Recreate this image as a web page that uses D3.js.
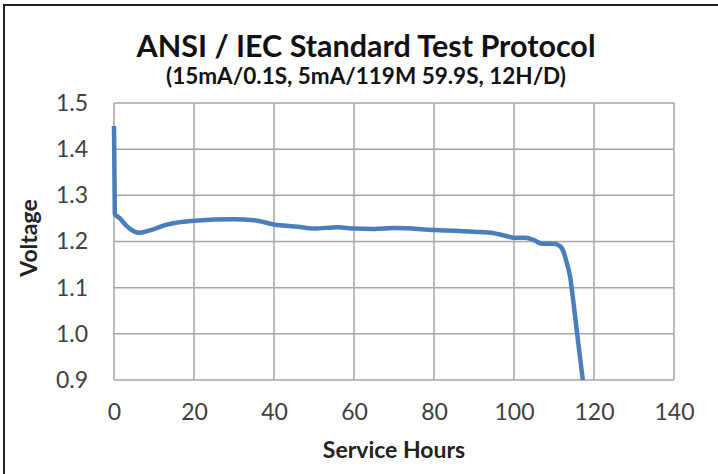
<!DOCTYPE html>
<html>
<head>
<meta charset="utf-8">
<script src="https://cdn.jsdelivr.net/npm/d3@7"></script>
<style>
  body { margin: 0; background: #fff; }
  text { font-family: Lato, "Open Sans", sans-serif; }
</style>
</head>
<body>
<script>
var hours   = [0, 0.2, 1.5, 3, 5, 6.5, 9, 13, 20, 30, 35, 40, 46, 50, 56, 60, 65, 70, 80, 90, 95, 98, 100, 103, 105, 107, 110, 111.5, 112.5, 113, 114, 115, 116, 117.2];
var voltage = [1.45, 1.26, 1.25, 1.235, 1.222, 1.219, 1.224, 1.236, 1.245, 1.248, 1.246, 1.237, 1.232, 1.228, 1.231, 1.228, 1.227, 1.229, 1.225, 1.221, 1.218, 1.212, 1.208, 1.208, 1.203, 1.195, 1.195, 1.19, 1.175, 1.16, 1.125, 1.058, 0.985, 0.9];
var xTicks = [0, 20, 40, 60, 80, 100, 120, 140];
var yTicks = [0.9, 1.0, 1.1, 1.2, 1.3, 1.4, 1.5];

var W = 718, H = 474;
var padL = 114, padR = 674, padT = 103, padB = 380;

var svg = d3.select("body").append("svg")
    .attr("width", W)
    .attr("height", H);

// outer frame (only top and left show)
svg.append("rect")
    .attr("x", 4).attr("y", 5)
    .attr("width", W + 20).attr("height", H + 20)
    .attr("fill", "#fff")
    .attr("stroke", "#222")
    .attr("stroke-width", 2);

var x = d3.scaleLinear().domain([0, 140]).range([padL, padR]);
var y = d3.scaleLinear().domain([0.9, 1.5]).range([padB, padT]);

// grid
svg.append("g").selectAll("line")
    .data(xTicks)
  .enter().append("line")
    .attr("x1", x).attr("x2", x)
    .attr("y1", padT).attr("y2", padB)
    .style("stroke", "#a6a6a6")
    .style("stroke-width", 1.5);

svg.append("g").selectAll("line")
    .data(yTicks)
  .enter().append("line")
    .attr("x1", padL).attr("x2", padR)
    .attr("y1", y).attr("y2", y)
    .style("stroke", "#a6a6a6")
    .style("stroke-width", 1.5);

// tick labels
var xAxis = d3.axisBottom(x).tickValues(xTicks).tickSize(0).tickPadding(24);
var gx = svg.append("g").attr("transform", "translate(0," + padB + ")").call(xAxis);
gx.select(".domain").remove();
gx.selectAll("text").style("font-size", "23px").style("fill", "#404040")
    .style("font-family", "Lato, sans-serif");

var yAxis = d3.axisLeft(y).tickValues(yTicks).tickSize(0).tickPadding(26)
    .tickFormat(d3.format(".1f"));
var gy = svg.append("g").attr("transform", "translate(" + padL + ",0)").call(yAxis);
gy.select(".domain").remove();
gy.selectAll("text").style("font-size", "23px").style("fill", "#404040")
    .style("font-family", "Lato, sans-serif");

// the curve
var pts = hours.map(function(h, i) { return [h, voltage[i]]; });
var line = d3.line()
    .x(function(d) { return x(d[0]); })
    .y(function(d) { return y(d[1]); })
    .curve(d3.curveMonotoneX);

svg.append("path")
    .datum(pts)
    .attr("d", line)
    .attr("fill", "none")
    .attr("stroke", "#4a7ebb")
    .attr("stroke-width", 4.5)
    .attr("stroke-linejoin", "round");

// titles
svg.append("text")
    .attr("x", 366).attr("y", 57)
    .attr("text-anchor", "middle")
    .style("font-size", "30.5px").style("font-weight", "bold").style("fill", "#111")
    .text("ANSI / IEC Standard Test Protocol");

svg.append("text")
    .attr("x", 366).attr("y", 84)
    .attr("text-anchor", "middle")
    .style("font-size", "22.5px").style("font-weight", "bold").style("fill", "#111")
    .text("(15mA/0.1S, 5mA/119M 59.9S, 12H/D)");

svg.append("text")
    .attr("x", 394).attr("y", 458)
    .attr("text-anchor", "middle")
    .style("font-size", "23px").style("font-weight", "bold").style("fill", "#222")
    .text("Service Hours");

svg.append("text")
    .attr("transform", "translate(37,238) rotate(-90)")
    .attr("text-anchor", "middle")
    .style("font-size", "23px").style("font-weight", "bold").style("fill", "#222")
    .text("Voltage");
</script>
</body>
</html>
